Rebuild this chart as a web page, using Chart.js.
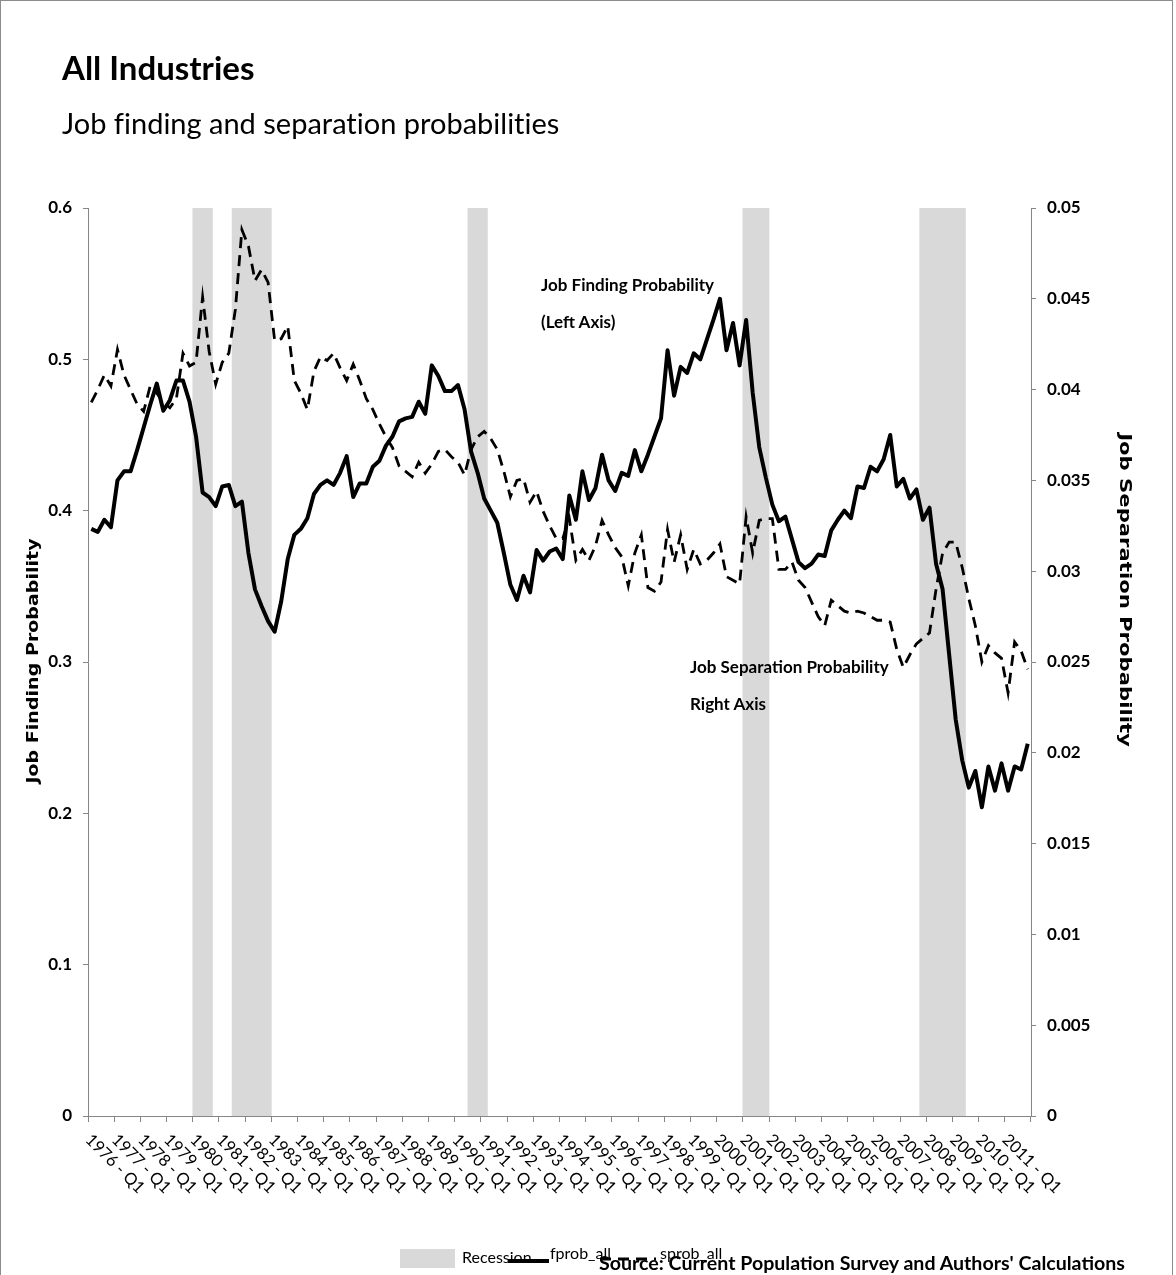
<!DOCTYPE html>
<html>
<head>
<meta charset="utf-8">
<script src="https://cdn.jsdelivr.net/npm/chart.js@4.4.1/dist/chart.umd.min.js"></script>
<style>
  html, body { margin: 0; padding: 0; background: #fff; }
  body { width: 1176px; height: 1275px; overflow: hidden; position: relative; font-family: Lato, "Noto Sans", sans-serif; font-variant-ligatures: none; }
  #frame { position: absolute; left: 0; top: 0; width: 1173px; height: 1300px; border: 1px solid #8c8c8c; box-sizing: border-box; }
  #wrap { position: absolute; left: 0; top: 0; width: 1176px; height: 1275px; }
  .t { position: absolute; white-space: nowrap; color: #000; line-height: normal; }
  #title { left: 62px; top: 47px; font: bold 33px Lato, sans-serif; }
  #subtitle { left: 62px; top: 105px; font: 29px Lato, sans-serif; font-variant-ligatures: none; }
  .ann { font: bold 17px Lato, sans-serif; line-height: 37px; }
  .axt { font: bold 15px "DejaVu Sans", sans-serif; transform-origin: 50% 50%; }
  .leg { font: 16px Lato, sans-serif; }
  #source { left: 599px; top: 1251px; font: bold 19.6px Lato, sans-serif; }
</style>
</head>
<body>
<div id="wrap"><canvas id="c" width="1176" height="1275"></canvas></div>
<div id="frame"></div>
<div class="t" id="title">All Industries</div>
<div class="t" id="subtitle">Job finding and separation probabilities</div>
<div class="t ann" style="left:541px; top:266px;">Job Finding Probability<br>(Left Axis)</div>
<div class="t ann" style="left:690px; top:648px;">Job Separation Probability<br>Right Axis</div>
<div class="t axt" id="ltitle" style="left:33px; top:661px; transform: translate(-50%,-50%) rotate(-90deg) scaleX(1.27);">Job Finding Probability</div>
<div class="t axt" id="rtitle" style="left:1125px; top:590px; transform: translate(-50%,-50%) rotate(90deg) scaleX(1.41);">Job Separation Probability</div>
<div style="position:absolute; left:400px; top:1249px; width:55px; height:19px; background:#d9d9d9;"></div>
<div class="t leg" style="left:462px; top:1247px;">Recession</div>
<div style="position:absolute; left:508px; top:1259px; width:41px; height:4px; background:#000;"></div>
<div class="t leg" style="left:550px; top:1243px;">fprob_all</div>
<svg style="position:absolute; left:600px; top:1254px;" width="56" height="10"><line x1="0" y1="5" x2="56" y2="5" stroke="#000" stroke-width="3" stroke-dasharray="11,7"/></svg>
<div class="t leg" style="left:660px; top:1243px;">sprob_all</div>
<div class="t" id="source">Source: Current Population Survey and Authors' Calculations</div>
<script>
// ---- data ----
const years = [1976,1977,1978,1979,1980,1981,1982,1983,1984,1985,1986,1987,1988,1989,1990,1991,1992,1993,1994,1995,1996,1997,1998,1999,2000,2001,2002,2003,2004,2005,2006,2007,2008,2009,2010,2011];
const quarterNames = ["Q1","Q2","Q3","Q4"];
const categories = [];
years.forEach(y => quarterNames.forEach(q => categories.push(y + " - " + q)));

const recessionQuarters = [
  "1980 - Q1","1980 - Q2","1980 - Q3",
  "1981 - Q3","1981 - Q4","1982 - Q1","1982 - Q2","1982 - Q3","1982 - Q4",
  "1990 - Q3","1990 - Q4","1991 - Q1",
  "2001 - Q1","2001 - Q2","2001 - Q3","2001 - Q4",
  "2007 - Q4","2008 - Q1","2008 - Q2","2008 - Q3","2008 - Q4","2009 - Q1","2009 - Q2"
];

const fprob_all = [
  0.388,0.386,0.394,0.389,0.420,0.426,0.426,0.440,
  0.455,0.470,0.484,0.466,0.473,0.486,0.486,0.472,
  0.449,0.412,0.409,0.403,0.416,0.417,0.403,0.406,
  0.372,0.348,0.337,0.327,0.320,0.340,0.368,0.384,
  0.388,0.395,0.411,0.417,0.420,0.417,0.425,0.436,
  0.409,0.418,0.418,0.429,0.433,0.443,0.449,0.459,
  0.461,0.462,0.472,0.464,0.496,0.489,0.479,0.479,
  0.483,0.467,0.439,0.425,0.408,0.400,0.392,0.372,
  0.351,0.341,0.357,0.346,0.374,0.367,0.373,0.375,
  0.368,0.410,0.394,0.426,0.407,0.415,0.437,0.420,
  0.413,0.425,0.423,0.440,0.426,0.437,0.449,0.461,
  0.506,0.476,0.495,0.491,0.504,0.500,0.513,0.526,
  0.540,0.506,0.524,0.496,0.526,0.478,0.442,0.422,
  0.404,0.393,0.396,0.381,0.366,0.362,0.365,0.371,
  0.370,0.387,0.394,0.400,0.395,0.416,0.415,0.429,
  0.426,0.434,0.450,0.416,0.421,0.408,0.414,0.394,
  0.402,0.365,0.348,0.305,0.262,0.235,0.217,0.228,
  0.204,0.231,0.215,0.233,0.215,0.231,0.229,0.246
];

const sprob_all = [
  0.0393,0.0400,0.0408,0.0402,0.0422,0.0408,0.0400,0.0392,
  0.0388,0.0402,0.0398,0.0393,0.0390,0.0395,0.0420,0.0413,
  0.0415,0.0451,0.0421,0.0403,0.0415,0.0420,0.0444,0.0488,
  0.0479,0.0460,0.0466,0.0459,0.0427,0.0428,0.0435,0.0405,
  0.0398,0.0389,0.0410,0.0418,0.0416,0.0420,0.0412,0.0405,
  0.0414,0.0405,0.0395,0.0389,0.0381,0.0374,0.0368,0.0358,
  0.0355,0.0352,0.0360,0.0354,0.0359,0.0366,0.0367,0.0363,
  0.0360,0.0353,0.0367,0.0374,0.0377,0.0373,0.0367,0.0355,
  0.0341,0.0350,0.0351,0.0338,0.0344,0.0333,0.0325,0.0318,
  0.0318,0.0329,0.0306,0.0312,0.0306,0.0314,0.0328,0.0320,
  0.0313,0.0308,0.0292,0.0310,0.0320,0.0291,0.0289,0.0294,
  0.0323,0.0305,0.0320,0.0301,0.0312,0.0304,0.0306,0.0310,
  0.0315,0.0297,0.0295,0.0293,0.0330,0.0310,0.0328,0.0329,
  0.0329,0.0301,0.0301,0.0305,0.0295,0.0291,0.0283,0.0275,
  0.0270,0.0284,0.0281,0.0278,0.0277,0.0278,0.0277,0.0275,
  0.0273,0.0273,0.0272,0.0257,0.0247,0.0254,0.0260,0.0263,
  0.0266,0.0290,0.0310,0.0316,0.0316,0.0302,0.0285,0.0270,
  0.0250,0.0259,0.0255,0.0252,0.0233,0.0261,0.0256,0.0246
];

const leftTicks = [0, 0.1, 0.2, 0.3, 0.4, 0.5, 0.6];
const rightTicks = [0, 0.005, 0.01, 0.015, 0.02, 0.025, 0.03, 0.035, 0.04, 0.045, 0.05];

// ---- build ----
const recession = categories.map(c => recessionQuarters.includes(c) ? 1 : null);
const AXIS = '#868686';

const xLabelPlugin = {
  id: 'xLabels',
  afterDraw(chart) {
    const xs = chart.scales.x;
    const ctx = chart.ctx;
    ctx.save();
    ctx.font = '16.5px Lato, sans-serif';
    ctx.fillStyle = '#000';
    ctx.textAlign = 'left';
    ctx.textBaseline = 'middle';
    categories.forEach((lab, i) => {
      if (i % 4 !== 0) return;
      const x = xs.getPixelForValue(i);
      ctx.save();
      ctx.translate(x - 3, xs.top + 21);
      ctx.rotate(Math.PI / 4);
      ctx.fillText(lab, 0, 0);
      ctx.restore();
    });
    ctx.restore();
  }
};

new Chart(document.getElementById('c'), {
  data: {
    labels: categories,
    datasets: [
      { type: 'line', label: 'fprob_all', data: fprob_all, yAxisID: 'y', borderColor: '#000', borderWidth: 4, pointRadius: 0, tension: 0, order: 1, borderJoinStyle: 'round' },
      { type: 'line', label: 'sprob_all', data: sprob_all, yAxisID: 'y2', borderColor: '#000', borderWidth: 2.8, borderDash: [11, 7], pointRadius: 0, tension: 0, order: 2 },
      { type: 'bar', label: 'Recession', data: recession, yAxisID: 'yr', backgroundColor: '#d9d9d9', barPercentage: 1.0, categoryPercentage: 1.0, order: 3 }
    ]
  },
  options: {
    responsive: false,
    animation: false,
    events: [],
    layout: { padding: { top: 208, left: 0, right: 0, bottom: 0 } },
    plugins: { legend: { display: false }, tooltip: { enabled: false } },
    scales: {
      x: {
        type: 'category',
        offset: true,
        grid: {
          display: true, drawOnChartArea: false, offset: true, tickLength: 6,
          color: (c) => (c.type !== 'tick' || c.index % 4 === 0) ? AXIS : 'rgba(0,0,0,0)'
        },
        border: { display: true, color: AXIS, width: 1 },
        ticks: { display: false },
        afterFit(s) { s.height = 159; }
      },
      y: {
        position: 'left', min: 0, max: 0.6,
        afterBuildTicks(s) { s.ticks = leftTicks.map(v => ({ value: v })); },
        ticks: { padding: 11, color: '#000', font: { family: 'Lato', weight: 'bold', size: 17 }, callback: v => String(+v.toFixed(1)) },
        grid: { drawOnChartArea: false, tickLength: 5, color: AXIS },
        border: { display: true, color: AXIS, width: 1 },
        afterFit(s) { s.width = 88; }
      },
      y2: {
        position: 'right', min: 0, max: 0.05,
        afterBuildTicks(s) { s.ticks = rightTicks.map(v => ({ value: v })); },
        ticks: { padding: 11, color: '#000', font: { family: 'Lato', weight: 'bold', size: 17 }, callback: v => String(+v.toFixed(3)) },
        grid: { drawOnChartArea: false, tickLength: 5, color: AXIS },
        border: { display: true, color: AXIS, width: 1 },
        afterFit(s) { s.width = 145; }
      },
      yr: { display: false, min: 0, max: 1 }
    }
  },
  plugins: [xLabelPlugin]
});
</script>
</body>
</html>
